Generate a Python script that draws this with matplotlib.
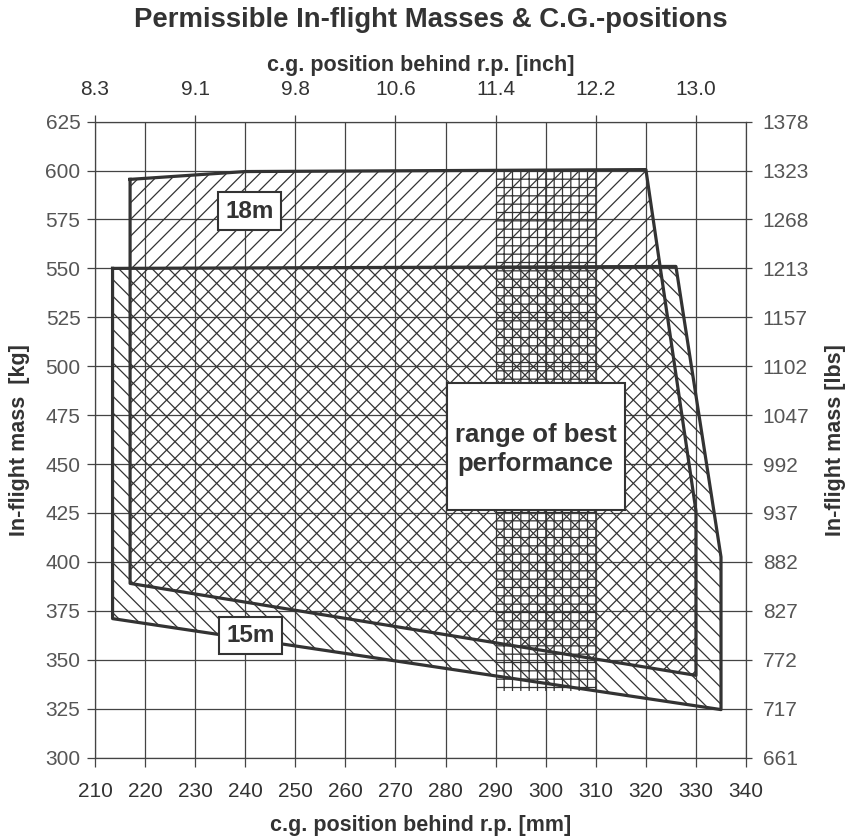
import numpy as np
import matplotlib.pyplot as plt
from matplotlib.patches import Rectangle

plt.rcParams['font.family'] = ['Liberation Sans', 'DejaVu Sans']
plt.rcParams['hatch.color'] = '#333333'
plt.rcParams['hatch.linewidth'] = 0.9

# Achsen: Schwerpunktlage [mm] und Flugmasse [kg]
mm_ticks = np.arange(210, 341, 10)
kg_ticks = np.arange(300, 626, 25)
inch_ticks = np.arange(210, 331, 20)
inch_labels = ['%.1f' % (v / 25.4) for v in inch_ticks]
lbs_labels = ['%d' % round(v * 2.20462) for v in kg_ticks]

# Umriss 18m
mm18 = [217, 240, 320, 330, 330, 217]
kg18 = [595.5, 599.5, 600.5, 426, 342, 389]

# Umriss 15m
mm15 = [213.5, 326, 335, 335, 213.5]
kg15 = [550, 551, 402.5, 324.5, 371]

# Bereich bester Leistung
best_mm = [290, 310]
best_kg = [334, 601]

dark = '#333333'

fig = plt.figure(figsize=(8.47, 8.39), dpi=100)
ax = fig.add_axes([0.1122, 0.0971, 0.7686, 0.7579])
ax.set_xlim(210, 340)
ax.set_ylim(300, 625)
ax.set_xticks(mm_ticks)
ax.set_yticks(kg_ticks)
ax.grid(True, color='#444444', lw=0.9)
ax.set_axisbelow(True)
for s in ax.spines.values():
    s.set_color('#444444')
    s.set_linewidth(0.9)

# Schraffuren
ax.fill(mm15, kg15, facecolor='none', edgecolor=dark, hatch='\\\\', linewidth=0)
ax.fill(mm18, kg18, facecolor='none', edgecolor=dark, hatch='//', linewidth=0)
ax.add_patch(Rectangle((best_mm[0], best_kg[0]), best_mm[1] - best_mm[0],
                       best_kg[1] - best_kg[0], facecolor='none',
                       edgecolor=dark, hatch='++', linewidth=0))

# Umrisslinien
ax.plot(mm15 + mm15[:1], kg15 + kg15[:1], color=dark, lw=2.3, zorder=4)
ax.plot(mm18 + mm18[:1], kg18 + kg18[:1], color=dark, lw=2.3, zorder=4)

# Beschriftungen
props = dict(boxstyle='square,pad=0.3', facecolor='white', edgecolor=dark, lw=1.5)
ax.text(240.9, 579.3, '18m', fontsize=17.5, fontweight='bold', color=dark,
        ha='center', va='center', bbox=props, zorder=6)
ax.text(241, 362.3, '15m', fontsize=17.5, fontweight='bold', color=dark,
        ha='center', va='center', bbox=props, zorder=6)
ax.add_patch(Rectangle((280.3, 426.4), 35.5, 65.1, facecolor='white',
                       edgecolor=dark, lw=1.5, zorder=5))
ax.text(298, 457.6, 'range of best\nperformance', fontsize=18.5, fontweight='bold',
        color=dark, ha='center', va='center', linespacing=1.25, zorder=6)

ax.tick_params(axis='x', direction='out', length=6.5, width=0.9, color='#444444',
               labelsize=15, labelcolor=dark, pad=11)
ax.tick_params(axis='y', direction='out', length=5.5, width=0.9, color='#444444',
               labelsize=15, labelcolor='#555555', pad=5)
ax.set_xlabel('c.g. position behind r.p. [mm]', fontsize=15.5, fontweight='bold',
              color=dark, labelpad=10)
ax.set_ylabel('In-flight mass  [kg]', fontsize=15.5, fontweight='bold',
              color=dark, labelpad=11)

# obere Achse in inch
axt = ax.twiny()
axt.set_xlim(ax.get_xlim())
axt.set_xticks(inch_ticks)
axt.set_xticklabels(inch_labels)
axt.tick_params(axis='x', direction='out', length=5, width=0.9, color='#444444',
                labelsize=15, labelcolor=dark, pad=11)
axt.set_xlabel('c.g. position behind r.p. [inch]', fontsize=15.5, fontweight='bold',
               color=dark, labelpad=7)

# rechte Achse in lbs
axr = ax.twinx()
axr.set_ylim(ax.get_ylim())
axr.set_yticks(kg_ticks)
axr.set_yticklabels(lbs_labels)
axr.tick_params(axis='y', direction='out', length=4.5, width=0.9, color='#444444',
                labelsize=15, labelcolor='#555555', pad=7.5)
axr.set_ylabel('In-flight mass [lbs]', fontsize=15.5, fontweight='bold',
               color=dark, labelpad=11)
for a in (axt, axr):
    for s in a.spines.values():
        s.set_visible(False)

fig.text(0.509, 0.976, 'Permissible In-flight Masses & C.G.-positions',
         fontsize=19.8, fontweight='bold', color=dark, ha='center', va='center')

plt.savefig('out.png', dpi=100)
